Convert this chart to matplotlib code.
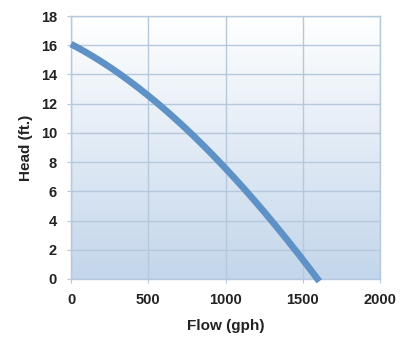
import numpy as np
import matplotlib.pyplot as plt

# pump curve
flow = [0, 250, 500, 750, 1000, 1250, 1500, 1607]
head = [16.1, 14.5, 12.45, 10.3, 7.65, 4.6, 1.1, 0]

x_ticks = [0, 500, 1000, 1500, 2000]
y_ticks = [0, 2, 4, 6, 8, 10, 12, 14, 16, 18]

plt.rcParams['font.family'] = ['Liberation Sans', 'DejaVu Sans']

fig = plt.figure(figsize=(4.09, 3.43), dpi=100)
ax = fig.add_axes([0.1736, 0.1866, 0.7555, 0.7667])

# vertical gradient background: white at top, light blue at bottom
grad = np.linspace(0, 1, 256).reshape(-1, 1)
top = np.array([1.0, 1.0, 1.0])
bottom = np.array([0xc3, 0xd6, 0xeb]) / 255
img = top + (bottom - top) * grad[..., None]
ax.imshow(img, extent=[0, 2000, 0, 18], aspect='auto', origin='upper', zorder=0)

ax.set_xlim(0, 2000)
ax.set_ylim(0, 18)
ax.set_xticks(x_ticks)
ax.set_yticks(y_ticks)
ax.grid(True, color='#b5c8dc', linewidth=1.0, zorder=1)
ax.set_axisbelow(False)

for s in ax.spines.values():
    s.set_color('#b5c8dc')
    s.set_linewidth(1.0)

ax.tick_params(length=3, color='#b5c8dc', labelsize=10.5, labelcolor='#222222')
ax.tick_params(axis='x', pad=7)
ax.tick_params(axis='y', pad=7)
for lab in ax.get_xticklabels() + ax.get_yticklabels():
    lab.set_fontweight('bold')

# smooth line through read points
xs = np.linspace(flow[0], flow[-1], 200)
coef = np.polyfit(flow, head, 3)
ax.plot(xs, np.polyval(coef, xs), color='#5e91c6', linewidth=4.8,
        solid_capstyle='butt', zorder=3, clip_on=False)

ax.set_xlabel('Flow (gph)', fontsize=11, fontweight='bold', color='#222222', labelpad=9)
ax.set_ylabel('Head (ft.)', fontsize=11, fontweight='bold', color='#222222', labelpad=6)

fig.savefig('out.png', dpi=100)
